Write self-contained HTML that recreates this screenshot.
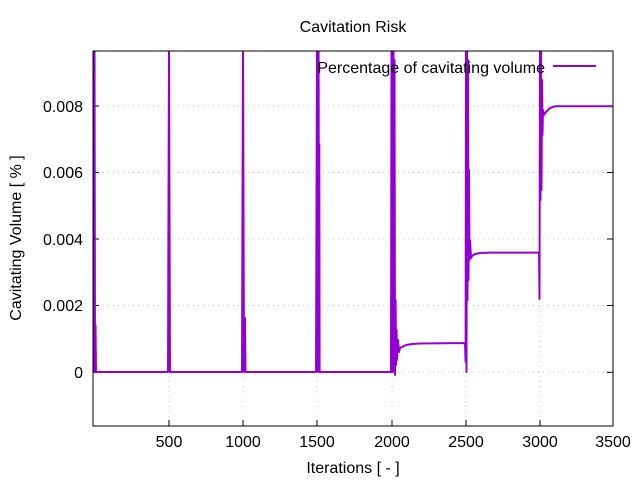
<!DOCTYPE html>
<html><head><meta charset="utf-8"><style>
body{margin:0;background:#fff}
text{font-family:"Liberation Sans",sans-serif;font-size:16px;fill:#000}
</style></head><body>
<svg width="640" height="480" viewBox="0 0 640 480" xmlns="http://www.w3.org/2000/svg">
<rect width="640" height="480" fill="#fff"/>
<g stroke="#c8c8c8" stroke-width="1" stroke-dasharray="1,4">
<line x1="169" y1="51" x2="169" y2="426"/><line x1="243" y1="51" x2="243" y2="426"/>
<line x1="317" y1="51" x2="317" y2="426"/><line x1="392" y1="51" x2="392" y2="426"/>
<line x1="466" y1="51" x2="466" y2="426"/><line x1="540" y1="51" x2="540" y2="426"/>
<line x1="93" y1="106" x2="613" y2="106"/><line x1="93" y1="172.5" x2="613" y2="172.5"/>
<line x1="93" y1="239" x2="613" y2="239"/><line x1="93" y1="305.5" x2="613" y2="305.5"/>
<line x1="93" y1="372.3" x2="613" y2="372.3"/>
</g>
<g stroke="#000" stroke-width="1">
<line x1="169" y1="426" x2="169" y2="420"/><line x1="243" y1="426" x2="243" y2="420"/>
<line x1="317" y1="426" x2="317" y2="420"/><line x1="392" y1="426" x2="392" y2="420"/>
<line x1="466" y1="426" x2="466" y2="420"/><line x1="540" y1="426" x2="540" y2="420"/>
<line x1="93" y1="106" x2="99" y2="106"/><line x1="93" y1="172.5" x2="99" y2="172.5"/>
<line x1="93" y1="239" x2="99" y2="239"/><line x1="93" y1="305.5" x2="99" y2="305.5"/><line x1="93" y1="372.3" x2="99" y2="372.3"/>
<line x1="613" y1="106" x2="607" y2="106"/><line x1="613" y1="172.5" x2="607" y2="172.5"/>
<line x1="613" y1="239" x2="607" y2="239"/><line x1="613" y1="305.5" x2="607" y2="305.5"/><line x1="613" y1="372.3" x2="607" y2="372.3"/>
</g>
<svg x="93" y="51" width="520" height="375" viewBox="93 51 520 375" overflow="hidden">
<path fill="none" stroke="#9400d3" stroke-width="2" stroke-linejoin="round" d="
M93.5,40 L94,372 L94.5,40 L95,372 L95.5,325 L96,372 L168,372 L169,40 L170,372 L171,372 L242,372 L243,40 L244,372 L245,318 L245.5,372 L316,372 L317,40 L318,372 L318.6,40 L319,372 L319.3,144 L319.6,370 L320,372 L391,372 L391.5,40 L392,372 L392.5,40 L393,372 L393.5,40 L394,360 L394.5,60 L395,375 L395.6,300 L396,365 L396.6,330 L397,360 L398,340 L399,352 L400,348 L402,347 L406,345 L412,344 L420,343.5 L465,343 L465.6,362 L466,40 L466.5,372 L467,40 L467.5,300 L468,60 L468.5,280 L469,170 L469.5,260 L470,240 L471,258 L472,256 L475,254 L480,253 L490,252.6 L539,252.6 L539.5,299 L540,40 L540.5,200 L541,40 L541.5,190 L542,80 L542.5,135 L543,110 L544,115 L546,112 L550,108 L555,106.3 L613,106.3"/>
</svg>
<rect x="93" y="51" width="520" height="375" fill="none" stroke="#000" stroke-width="1"/>
<text x="353" y="32" text-anchor="middle">Cavitation Risk</text>
<text x="545" y="73" text-anchor="end">Percentage of cavitating volume</text>
<line x1="553" y1="66" x2="596" y2="66" stroke="#9400d3" stroke-width="2"/>
<g text-anchor="middle">
<text x="169" y="447">500</text><text x="243" y="447">1000</text><text x="317" y="447">1500</text>
<text x="392" y="447">2000</text><text x="466" y="447">2500</text><text x="540" y="447">3000</text><text x="613" y="447">3500</text>
<text x="353" y="473">Iterations [ - ]</text>
</g>
<g text-anchor="end">
<text x="83" y="112">0.008</text><text x="83" y="178">0.006</text><text x="83" y="245">0.004</text>
<text x="83" y="311">0.002</text><text x="83" y="378">0</text>
</g>
<text transform="translate(21,238) rotate(-90)" text-anchor="middle">Cavitating Volume [ % ]</text>
</svg>
</body></html>
